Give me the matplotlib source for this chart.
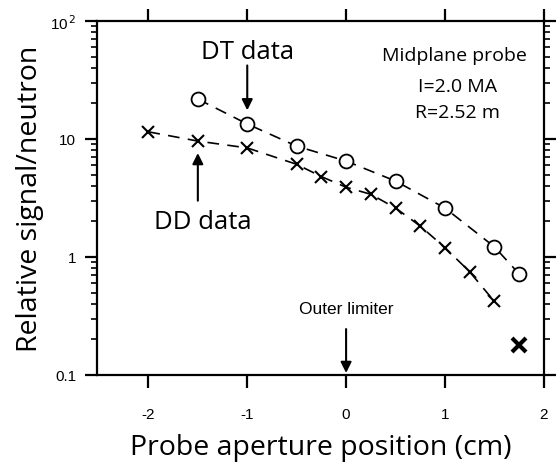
import numpy as np
import matplotlib.pyplot as plt

# DT data (open circles)
dt_x = [-1.5, -1.0, -0.5, 0.0, 0.5, 1.0, 1.5, 1.75]
dt_y = [21.8, 13.4, 8.7, 6.5, 4.4, 2.6, 1.22, 0.72]

# DD data (crosses); last point drawn bold and not joined
dd_x = [-2.0, -1.5, -1.0, -0.5, -0.25, 0.0, 0.25, 0.5, 0.75, 1.0, 1.25, 1.5, 1.75]
dd_y = [11.5, 9.6, 8.4, 6.1, 4.8, 3.9, 3.4, 2.6, 1.83, 1.2, 0.75, 0.42, 0.18]

x_ticks = [-2, -1, 0, 1, 2]
y_ticks = [0.1, 1, 10, 100]
y_tick_labels = ['0.1', '1', '10', '10$^{\\,2}$']

SANS = ['Open Sans', 'DejaVu Sans']
TICKF = ['Liberation Sans', 'DejaVu Sans']


def arrow(ax, x, y_tip, y_tail):
    ax.annotate('', xy=(x, y_tip), xytext=(x, y_tail),
                arrowprops=dict(arrowstyle='-|>', color='black', lw=1.5,
                                mutation_scale=16, shrinkA=0, shrinkB=0))


def main():
    fig = plt.figure(figsize=(5.56, 4.64), dpi=100)
    ax = fig.add_axes([0.1745, 0.1897, 0.8035, 0.7629])

    ax.plot(dt_x, dt_y, color='black', lw=1.2, ls=(0, (7, 5)),
            marker='o', ms=10, mfc='white', mec='black', mew=1.3)
    ax.plot(dd_x[:-1], dd_y[:-1], color='black', lw=1.2, ls=(0, (7, 5)),
            marker='x', ms=9, mew=1.5)
    ax.plot(dd_x[-1:], dd_y[-1:], ls='none', color='black',
            marker='x', ms=10, mew=3)

    ax.set_yscale('log')
    ax.set_xlim(-2.52, 2.0)
    ax.set_ylim(0.1, 100)
    ax.set_xticks(x_ticks)
    ax.set_xticklabels([str(t) for t in x_ticks], family=TICKF, fontsize=11)
    ax.set_yticks(y_ticks)
    ax.set_yticklabels(y_tick_labels, family=TICKF, fontsize=11)

    for s in ax.spines.values():
        s.set_linewidth(1.6)
    ax.tick_params(which='major', direction='out', length=9, width=1.6,
                   top=True, right=True)
    ax.tick_params(axis='x', which='major', pad=14)
    ax.tick_params(axis='y', which='major', pad=6)
    ax.tick_params(which='minor', direction='out', length=4, width=1.2,
                   top=False, right=True)

    ax.set_xlabel('Probe aperture position (cm)', family=SANS, fontsize=20.5, labelpad=9)
    ax.set_ylabel('Relative signal/neutron', family=SANS, fontsize=20.5, labelpad=4)

    ax.text(-1.0, 55, 'DT data', family=SANS, fontsize=18.5, ha='center', va='center')
    arrow(ax, -1.0, 17.5, 42)
    ax.text(-1.45, 1.98, 'DD data', family=SANS, fontsize=18.5, ha='center', va='center')
    arrow(ax, -1.5, 7.6, 3.0)

    ax.text(1.1, 52, 'Midplane probe', family=SANS, fontsize=14, ha='center', va='center')
    ax.text(1.13, 28, 'I=2.0 MA', family=SANS, fontsize=14, ha='center', va='center')
    ax.text(1.13, 17, 'R=2.52 m', family=SANS, fontsize=14, ha='center', va='center')

    ax.text(0.0, 0.363, 'Outer limiter', family=TICKF, fontsize=12.5, ha='center', va='center')
    arrow(ax, 0.0, 0.104, 0.245)

    fig.savefig('out.png', dpi=100)


if __name__ == '__main__':
    main()
